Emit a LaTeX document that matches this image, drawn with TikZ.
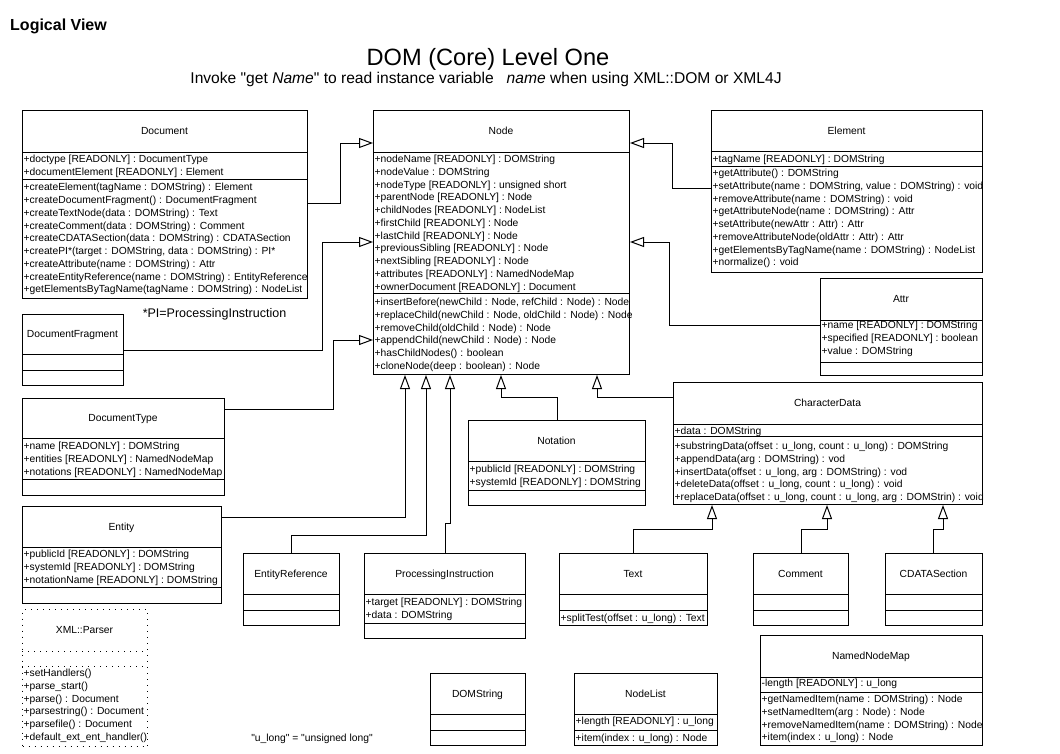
\documentclass[tikz,border=0pt]{standalone}
\usepackage{fontspec}
\setmainfont{Liberation Sans}[Ligatures=TeXOff]
\usetikzlibrary{arrows.meta,calc}
\tikzset{
  clsbox/.style={draw, line width=1pt, inner sep=0pt, rectangle},
  divline/.style={line width=1pt},
  nametext/.style={font=\fontsize{10.3}{12}\selectfont, inner sep=0pt},
  memtext/.style={font=\fontsize{10.3}{12}\selectfont, inner sep=0pt},
  notetext/.style={inner sep=0pt},
  inh/.style={line width=1pt, -{Triangle[length=14pt,width=10pt,fill=white]}},
  parserbox/.style={dash pattern=on 1pt off 5pt},
}
% #1 opt style, #2 name, #3 x, #4 y, #5 w, #6 h, #7 divider1 y, #8 divider2 y, #9 title
\newcommand\umlclass[9][]{%
  \node[clsbox,#1,minimum width=#5pt,minimum height=#6pt,anchor=north west] (#2) at (#3,#4) {};
  \draw[divline,#1] (#3,#7) -- ++(#5,0);
  \draw[divline,#1] (#3,#8) -- ++(#5,0);
  \node[nametext,anchor=base] (#2-name) at ({#3+#5/2},{(#4+#7)/2+3.5}) {#9};
}
% #1 prefix, #2 x, #3 first baseline, #4 list
\newcommand\members[4]{%
  \foreach \mline [count=\i] in {#4} {
    \node[memtext,anchor=base west] (#1-\i) at ({#2+1.5},{#3+12.75*(\i-1)}) {\mline};
  }
}
\begin{document}
\begin{tikzpicture}[x=1pt,y=-1pt]
\fill[white] (0,0) rectangle (1060,753);
\useasboundingbox (0,0) rectangle (1060,753);

\node[notetext,font=\fontsize{16}{19}\selectfont\bfseries, anchor=base west] (lv) at (10,30) {Logical View};
\node[notetext,font=\fontsize{23.6}{28}\selectfont, anchor=base] (title) at (488,65.5) {DOM (Core) Level One};
\node[notetext,font=\fontsize{15.6}{19}\selectfont, anchor=base] (subtitle) at (486,83.5) {Invoke "get \textit{Name}" to read instance variable \ \ \textit{name} when using XML::DOM or XML4J};

% Document
\umlclass{Document}{22}{110}{285}{188}{152}{179}{Document}
\members{Document-a}{22}{162.5}{{+doctype [READONLY] : DocumentType},{+documentElement [READONLY] : Element}}
\members{Document-o}{22}{190.8}{{+createElement(tagName : DOMString) : Element},{+createDocumentFragment() : DocumentFragment},{+createTextNode(data : DOMString) : Text},{+createComment(data : DOMString) : Comment},{+createCDATASection(data : DOMString) : CDATASection},{+createPI*(target : DOMString, data : DOMString) : PI*},{+createAttribute(name : DOMString) : Attr},{+createEntityReference(name : DOMString) : EntityReference},{+getElementsByTagName(tagName : DOMString) : NodeList}}

% Node
\umlclass{Node}{373}{110}{256}{264}{152}{293}{Node}
\members{Node-a}{373}{162.5}{{+nodeName [READONLY] : DOMString},{+nodeValue : DOMString},{+nodeType [READONLY] : unsigned short},{+parentNode [READONLY] : Node},{+childNodes [READONLY] : NodeList},{+firstChild [READONLY] : Node},{+lastChild [READONLY] : Node},{+previousSibling [READONLY] : Node},{+nextSibling [READONLY] : Node},{+attributes [READONLY] : NamedNodeMap},{+ownerDocument [READONLY] : Document}}
\members{Node-o}{373}{305.5}{{+insertBefore(newChild : Node, refChild : Node) : Node},{+replaceChild(newChild : Node, oldChild : Node) : Node},{+removeChild(oldChild : Node) : Node},{+appendChild(newChild : Node) : Node},{+hasChildNodes() : boolean},{+cloneNode(deep : boolean) : Node}}

% Element
\umlclass{Element}{711}{110}{271}{162}{151}{166}{Element}
\members{Element-a}{711}{162.5}{{+tagName [READONLY] : DOMString}}
\members{Element-o}{711}{176.5}{{+getAttribute() : DOMString},{+setAttribute(name : DOMString, value : DOMString) : void},{+removeAttribute(name : DOMString) : void},{+getAttributeNode(name : DOMString) : Attr},{+setAttribute(newAttr : Attr) : Attr},{+removeAttributeNode(oldAttr : Attr) : Attr},{+getElementsByTagName(name : DOMString) : NodeList},{+normalize() : void}}

% Attr
\umlclass{Attr}{820}{278}{162}{97}{320}{362}{Attr}
\members{Attr-a}{820}{328.5}{{+name [READONLY] : DOMString},{+specified [READONLY] : boolean},{+value : DOMString}}

% CharacterData
\umlclass{CharacterData}{673}{382}{309}{122}{424}{436}{CharacterData}
\members{CharacterData-a}{673}{434.5}{{+data : DOMString}}
\members{CharacterData-o}{673}{449.5}{{+substringData(offset : u\_long, count : u\_long) : DOMString},{+appendData(arg : DOMString) : vod},{+insertData(offset : u\_long, arg : DOMString) : vod},{+deleteData(offset : u\_long, count : u\_long) : void},{+replaceData(offset : u\_long, count : u\_long, arg : DOMStrin) : void}}

% DocumentFragment
\umlclass{DocumentFragment}{22}{314}{101}{71}{354}{370}{DocumentFragment}

% DocumentType
\umlclass{DocumentType}{22}{398}{202}{97}{438}{479}{DocumentType}
\members{DocumentType-a}{22}{449.5}{{+name [READONLY] : DOMString},{+entities [READONLY] : NamedNodeMap},{+notations [READONLY] : NamedNodeMap}}

% Notation
\umlclass{Notation}{468}{420}{177}{85}{461}{490}{Notation}
\members{Notation-a}{468}{472.5}{{+publicId [READONLY] : DOMString},{+systemId [READONLY] : DOMString}}

% Entity
\umlclass{Entity}{22}{506}{199}{97}{547}{587}{Entity}
\members{Entity-a}{22}{557.5}{{+publicId [READONLY] : DOMString},{+systemId [READONLY] : DOMString},{+notationName [READONLY] : DOMString}}

% EntityReference
\umlclass{EntityReference}{243}{553}{96}{72}{594}{610}{EntityReference}

% ProcessingInstruction
\umlclass{ProcessingInstruction}{364}{553}{161}{85}{594}{623}{ProcessingInstruction}
\members{ProcessingInstruction-a}{364}{605.5}{{+target [READONLY] : DOMString},{+data : DOMString}}

% Text, Comment, CDATASection
\umlclass{Text}{559}{553}{148}{72}{594}{610}{Text}
\members{Text-o}{559}{621.5}{{+splitTest(offset : u\_long) : Text}}
\umlclass{Comment}{753}{553}{95}{72}{594}{610}{Comment}
\umlclass{CDATASection}{885}{553}{97}{72}{594}{610}{CDATASection}

% XML::Parser
\umlclass[parserbox]{Parser}{22}{609}{125}{137}{651}{666}{XML::Parser}
\members{Parser-o}{22}{676.5}{{+setHandlers()},{+parse\_start()},{+parse() : Document},{+parsestring() : Document},{+parsefile() : Document},{+default\_ext\_ent\_handler()}}

% DOMString, NodeList, NamedNodeMap
\umlclass{DOMString}{430}{673}{95}{72}{714}{730}{DOMString}
\umlclass{NodeList}{574}{673}{143}{72}{714}{730}{NodeList}
\members{NodeList-a}{574}{724.5}{{+length [READONLY] : u\_long}}
\members{NodeList-o}{574}{741.5}{{+item(index : u\_long) : Node}}
\umlclass{NamedNodeMap}{760}{635}{222}{110}{677}{692}{NamedNodeMap}
\members{NamedNodeMap-a}{760}{686.5}{{-length [READONLY] : u\_long}}
\members{NamedNodeMap-o}{760}{702.5}{{+getNamedItem(name : DOMString) : Node},{+setNamedItem(arg : Node) : Node},{+removeNamedItem(name : DOMString) : Node},{+item(index : u\_long) : Node}}

% notes
\node[notetext,font=\fontsize{12.5}{15}\selectfont, anchor=base] (pinote) at (214.5,317.5) {*PI=ProcessingInstruction};
\node[notetext,font=\fontsize{10.3}{12}\selectfont, anchor=base] (ulnote) at (312,741.5) {"u\_long" = "unsigned long"};

% generalisations to Node
\draw[inh] (Document.east |- 0,203) -- (340,203) -- (340,143) -- (Node.west |- 0,143);
\draw[inh] (DocumentFragment.east |- 0,350) -- (322,350) -- (322,242) -- (Node.west |- 0,242);
\draw[inh] (DocumentType.east |- 0,409) -- (333,409) -- (333,340) -- (Node.west |- 0,340);
\draw[inh] (Element.west |- 0,188) -- (672,188) -- (672,143) -- (Node.east |- 0,143);
\draw[inh] (Attr.west |- 0,325) -- (669,325) -- (669,242) -- (Node.east |- 0,242);
\draw[inh] (CharacterData.west |- 0,397) -- (597,397) -- (Node.south -| 597,0);
\draw[inh] (Notation.north -| 557,0) -- (557,397) -- (501,397) -- (Node.south -| 501,0);
\draw[inh] (Entity.east |- 0,517) -- (405,517) -- (Node.south -| 405,0);
\draw[inh] (EntityReference.north -| 291,0) -- (291,535) -- (426,535) -- (Node.south -| 426,0);
\draw[inh] (ProcessingInstruction.north -| 445,0) -- (445,523) -- (450,523) -- (Node.south -| 450,0);
% generalisations to CharacterData
\draw[inh] (Text.north -| 633,0) -- (633,529) -- (712,529) -- (CharacterData.south -| 712,0);
\draw[inh] (Comment.north -| 801,0) -- (801,529) -- (827,529) -- (CharacterData.south -| 827,0);
\draw[inh] (CDATASection.north -| 933,0) -- (933,529) -- (943,529) -- (CharacterData.south -| 943,0);
\end{tikzpicture}
\end{document}
